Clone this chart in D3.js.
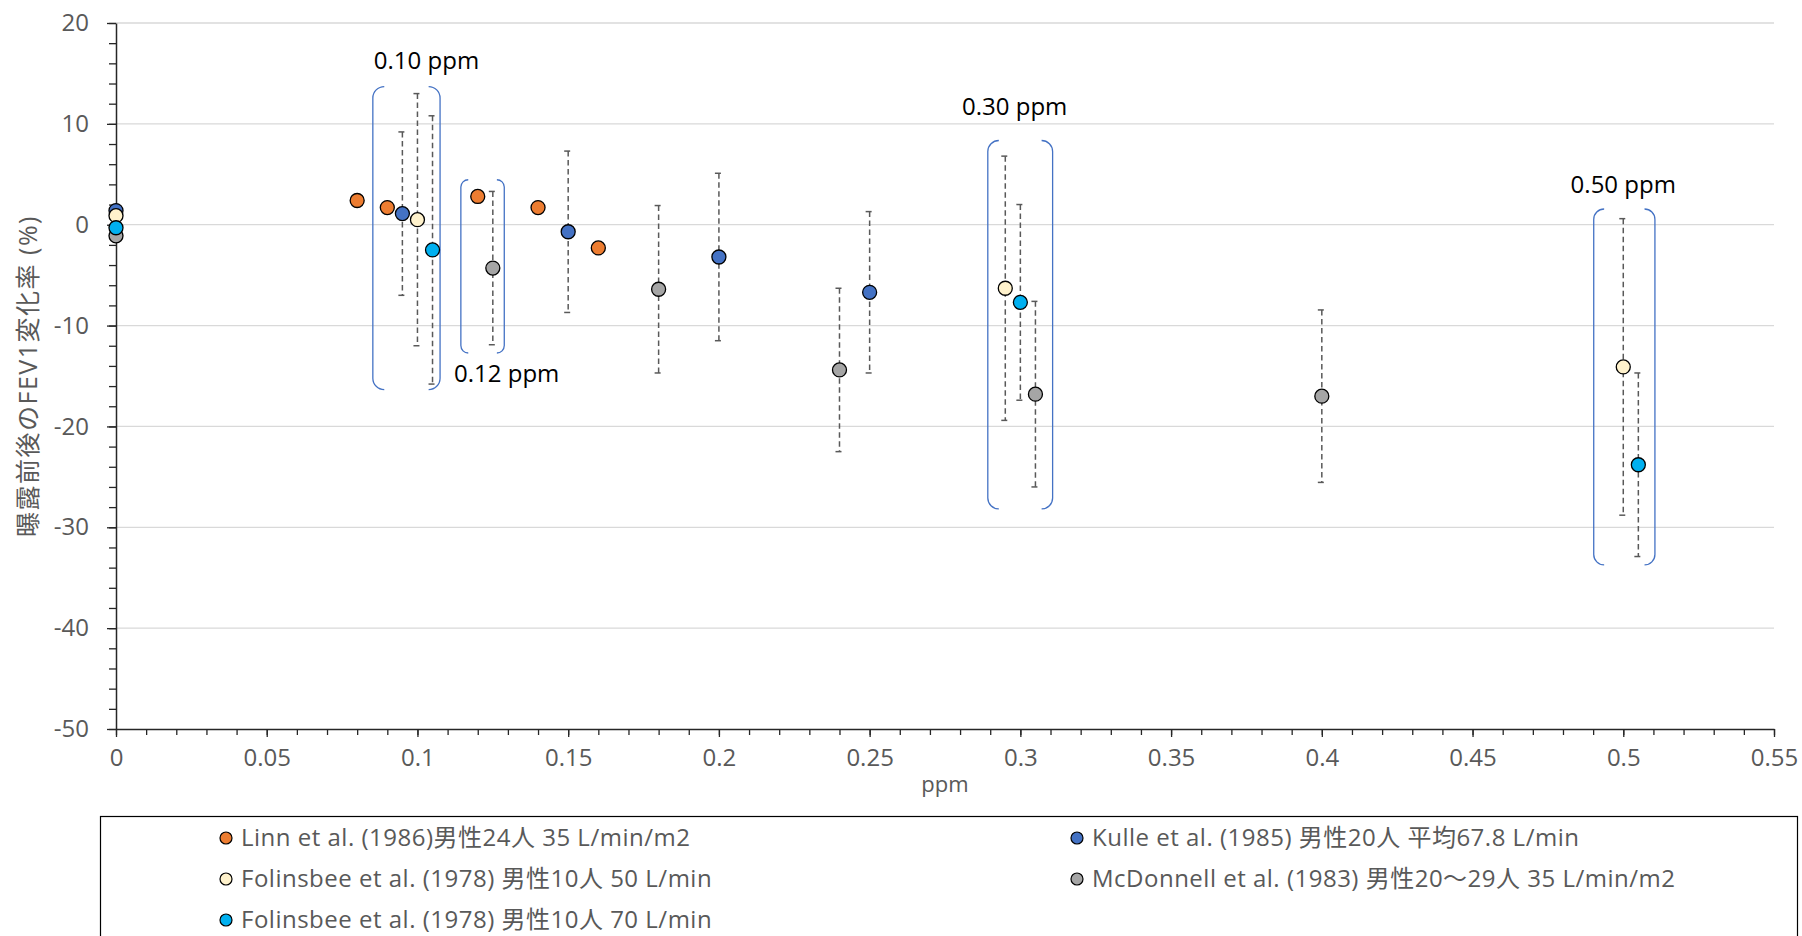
<!DOCTYPE html>
<html>
<head>
<meta charset="utf-8">
<script src="https://cdnjs.cloudflare.com/ajax/libs/d3/7.8.5/d3.min.js"></script>
<style>
  body { margin: 0; background: #fff; }
  svg { display: block; font-family: "Open Sans", "Noto Sans CJK JP", sans-serif; }
</style>
</head>
<body>
<div id="chart"></div>
<script>
// Series: [ppm, change %, error (±)]
const linnPoints = [[0.08, 2.4], [0.09, 1.7], [0.12, 2.8], [0.14, 1.7], [0.16, -2.3]];
const kullePoints = [[0, 1.4], [0.095, 1.1, 8.1], [0.15, -0.7, 8.0], [0.2, -3.2, 8.3], [0.25, -6.7, 8.0]];
const fol50Points = [[0, 0.9], [0.1, 0.5, 12.5], [0.295, -6.3, 13.1], [0.5, -14.1, 14.7]];
const mcdPoints = [[0, -1.1], [0.125, -4.3, 7.6], [0.18, -6.4, 8.3], [0.24, -14.4, 8.1], [0.305, -16.8, 9.2], [0.4, -17.0, 8.55]];
const fol70Points = [[0, -0.3], [0.105, -2.5, 13.3], [0.3, -7.7, 9.7], [0.505, -23.8, 9.1]];

const seriesNames = [
    "Linn et al. (1986)男性24人 35 L/min/m2",
    "Kulle et al. (1985) 男性20人 平均67.8 L/min",
    "Folinsbee et al. (1978) 男性10人 50 L/min",
    "McDonnell et al. (1983) 男性20～29人 35 L/min/m2",
    "Folinsbee et al. (1978) 男性10人 70 L/min"
];
const seriesColors = ["#ED7D31", "#4472C4", "#FFF2CC", "#A5A5A5", "#00B0F0"];

const xTickValues = [0, 0.05, 0.1, 0.15, 0.2, 0.25, 0.3, 0.35, 0.4, 0.45, 0.5, 0.55];
const yTickValues = [-50, -40, -30, -20, -10, 0, 10, 20];

// Bracket groups: [x0, x1, yTop, yBottom] in data units, label, label position
const bracketBoxes = [[0.0852, 0.1075, 13.7, -16.35], [0.1144, 0.1288, 4.46, -12.72], [0.2892, 0.3107, 8.35, -28.18], [0.4902, 0.5105, 1.56, -33.73]];
const bracketLabels = ["0.10 ppm", "0.12 ppm", "0.30 ppm", "0.50 ppm"];
const bracketLabelPos = [[0.103, 15.4], [0.1296, -15.6], [0.2981, 10.9], [0.5, 3.1]];

const margin = { top: 23, right: 28, bottom: 207, left: 116 },
    width = 1802 - margin.left - margin.right,
    height = 936 - margin.top - margin.bottom;

const svgRoot = d3.select("#chart").append("svg")
    .attr("width", 1802)
    .attr("height", 936);

const svg = svgRoot.append("g")
    .attr("transform", `translate(${margin.left},${margin.top})`);

const x = d3.scaleLinear().domain([0, 0.55]).range([0, width]);
const y = d3.scaleLinear().domain([-50, 20]).range([height, 0]);

// gridlines
svg.append("g")
    .selectAll("line")
    .data(yTickValues.filter(v => v !== -50))
    .enter().append("line")
    .attr("x1", 0).attr("x2", width)
    .attr("y1", d => y(d)).attr("y2", d => y(d))
    .attr("stroke", "#d9d9d9")
    .attr("stroke-width", 1.3);

// minor ticks
svg.append("g")
    .attr("transform", `translate(0,${height})`)
    .call(d3.axisBottom(x).tickValues(d3.range(0, 56).map(i => i / 100)).tickSize(6).tickFormat(""))
    .call(g => g.select(".domain").remove())
    .selectAll("line").attr("stroke", "#262626").attr("stroke-width", 1.3);

svg.append("g")
    .call(d3.axisLeft(y).tickValues(d3.range(-50, 21, 2)).tickSize(7).tickFormat(""))
    .call(g => g.select(".domain").remove())
    .selectAll("line").attr("stroke", "#262626").attr("stroke-width", 1.3);

// major axes
const xAxis = svg.append("g")
    .attr("transform", `translate(0,${height})`)
    .call(d3.axisBottom(x).tickValues(xTickValues).tickSize(8).tickSizeOuter(0).tickPadding(12).tickFormat(d => String(d)));

const yAxis = svg.append("g")
    .call(d3.axisLeft(y).tickValues(yTickValues).tickSize(9).tickSizeOuter(0).tickPadding(18).tickFormat(d => String(d)));

[xAxis, yAxis].forEach(ax => {
    ax.select(".domain").attr("stroke", "#262626").attr("stroke-width", 1.5);
    ax.selectAll(".tick line").attr("stroke", "#262626").attr("stroke-width", 1.3);
    ax.selectAll(".tick text")
        .style("font-size", "24px")
        .style("fill", "#595959")
        .style("font-family", "'Open Sans', sans-serif");
});

// axis labels
svg.append("text")
    .attr("x", width / 2)
    .attr("y", height + 63)
    .attr("text-anchor", "middle")
    .style("font-size", "22px")
    .style("fill", "#595959")
    .text("ppm");

svg.append("text")
    .attr("transform", "rotate(-90)")
    .attr("x", -height / 2)
    .attr("y", -margin.left + 37)
    .attr("text-anchor", "middle")
    .style("font-size", "25px")
    .style("letter-spacing", "1.5px")
    .style("fill", "#595959")
    .text("曝露前後のFEV1変化率 (%)");

// brackets
bracketBoxes.forEach(b => {
    const x0 = x(b[0]), x1 = x(b[1]), y0 = y(b[2]), y1 = y(b[3]);
    const r = (x1 - x0) * 0.17;
    const left = `M${x0 + r},${y0} A${r},${r} 0 0 0 ${x0},${y0 + r} L${x0},${y1 - r} A${r},${r} 0 0 0 ${x0 + r},${y1}`;
    const right = `M${x1 - r},${y0} A${r},${r} 0 0 1 ${x1},${y0 + r} L${x1},${y1 - r} A${r},${r} 0 0 1 ${x1 - r},${y1}`;
    svg.append("path")
        .attr("d", left + " " + right)
        .attr("fill", "none")
        .attr("stroke", "#4472C4")
        .attr("stroke-width", 1.3);
});

svg.append("g")
    .selectAll("text")
    .data(bracketLabels)
    .enter().append("text")
    .attr("x", (d, i) => x(bracketLabelPos[i][0]))
    .attr("y", (d, i) => y(bracketLabelPos[i][1]))
    .attr("text-anchor", "middle")
    .style("font-size", "24px")
    .style("fill", "#000")
    .text(d => d);

// series
const allSeries = [linnPoints, kullePoints, fol50Points, mcdPoints, fol70Points];

// error bars first
allSeries.forEach(pts => {
    const withErr = pts.filter(p => p[2] != null);
    const g = svg.append("g").attr("class", "errorbars");
    g.selectAll(".eb")
        .data(withErr)
        .enter().append("line")
        .attr("x1", d => x(d[0])).attr("x2", d => x(d[0]))
        .attr("y1", d => y(d[1] + d[2])).attr("y2", d => y(d[1] - d[2]))
        .attr("stroke", "#595959")
        .attr("stroke-width", 1.5)
        .attr("stroke-dasharray", "5.5,3.5");
    [1, -1].forEach(sign => {
        g.selectAll(null)
            .data(withErr)
            .enter().append("line")
            .attr("x1", d => x(d[0]) - 4).attr("x2", d => x(d[0]) + 2)
            .attr("y1", d => y(d[1] + sign * d[2])).attr("y2", d => y(d[1] + sign * d[2]))
            .attr("stroke", "#595959")
            .attr("stroke-width", 1.5);
    });
});

allSeries.forEach((pts, i) => {
    svg.append("g")
        .selectAll("circle")
        .data(pts)
        .enter().append("circle")
        .attr("cx", d => x(d[0]))
        .attr("cy", d => y(d[1]))
        .attr("r", 7)
        .attr("fill", seriesColors[i])
        .attr("stroke", "#000")
        .attr("stroke-width", 1.3);
});

// legend
const legend = svgRoot.append("g");
legend.append("rect")
    .attr("x", 100.5).attr("y", 816.5)
    .attr("width", 1697).attr("height", 200)
    .attr("fill", "none")
    .attr("stroke", "#000")
    .attr("stroke-width", 1.2);

// Excel fills rows left to right in two columns
const legendCols = [226, 1077];
seriesNames.forEach((name, i) => {
    const col = i % 2, row = Math.floor(i / 2);
    const item = legend.append("g")
        .attr("transform", `translate(${legendCols[col]},${838 + row * 41})`);
    item.append("circle")
        .attr("r", 6)
        .attr("fill", seriesColors[i])
        .attr("stroke", "#000")
        .attr("stroke-width", 1.2);
    item.append("text")
        .attr("x", 15)
        .attr("y", 8)
        .style("font-size", "24px")
        .style("letter-spacing", "0.5px")
        .style("fill", "#595959")
        .text(name);
});
</script>
</body>
</html>
